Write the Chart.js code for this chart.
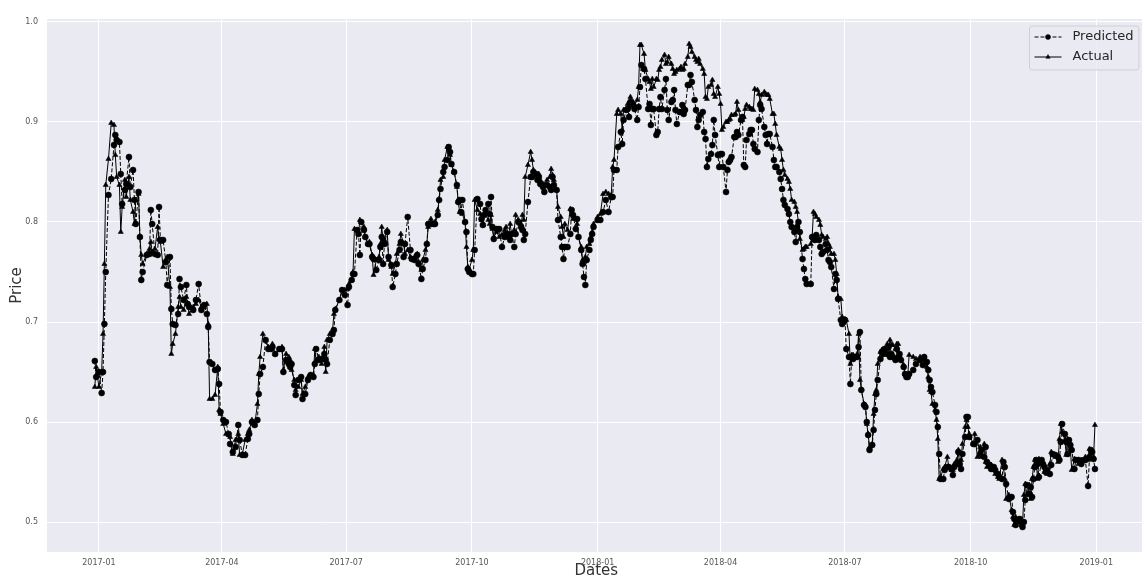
<!DOCTYPE html>
<html>
<head>
<meta charset="utf-8">
<title>Predicted vs Actual</title>
<script src="https://cdn.jsdelivr.net/npm/chart.js@4.4.1/dist/chart.umd.min.js"></script>
<style>
  html, body { margin: 0; padding: 0; background: #fff; }
  body { width: 1142px; height: 579px; overflow: hidden; }
  #wrap { width: 1150px; height: 579px; }
</style>
</head>
<body>
<div id="wrap"><canvas id="priceChart" width="1150" height="579"></canvas></div>
<script>
// days counted from 2017-01-01
const days = [
  -3, -2, 0, 2, 3, 4, 5, 7, 9, 11,
  12, 13, 15, 16, 17, 19, 20, 22, 23, 25,
  26, 27, 29, 30, 31, 32, 35, 37, 38, 39,
  41, 43, 44, 45, 47, 49, 50, 52, 53, 54,
  56, 58, 59, 60, 62, 64, 65, 66, 69, 71,
  73, 75, 77, 79, 80, 81, 83, 85, 87, 88,
  89, 91, 93, 95, 96, 98, 100, 102, 103, 105,
  107, 109, 110, 112, 114, 116, 117, 118, 120, 122,
  124, 126, 127, 129, 132, 134, 135, 137, 139, 140,
  141, 143, 144, 146, 148, 149, 151, 153, 155, 157,
  158, 159, 161, 163, 165, 166, 167, 169, 171, 172,
  173, 176, 178, 180, 182, 183, 185, 186, 187, 189,
  190, 191, 192, 194, 195, 197, 198, 200, 201, 203,
  205, 206, 207, 208, 209, 211, 212, 214, 215, 217,
  218, 220, 221, 223, 224, 226, 228, 229, 231, 233,
  234, 236, 237, 239, 240, 241, 243, 245, 246, 248,
  249, 250, 252, 253, 255, 256, 257, 258, 260, 262,
  263, 264, 265, 266, 268, 269, 270, 271, 273, 274,
  275, 277, 279, 280, 281, 282, 283, 285, 286, 287,
  288, 289, 291, 293, 295, 297, 298, 300, 301, 302,
  304, 305, 307, 309, 310, 311, 312, 314, 316, 317,
  318, 320, 321, 322, 323, 325, 326, 328, 330, 331,
  332, 333, 335, 336, 338, 339, 340, 341, 343, 345,
  346, 347, 349, 350, 351, 353, 354, 355, 356, 357,
  359, 360, 361, 362, 365, 367, 369, 371, 373, 375,
  376, 377, 379, 380, 382, 383, 384, 386, 387, 388,
  389, 391, 392, 394, 395, 396, 397, 399, 400, 402,
  403, 404, 405, 406, 408, 409, 410, 411, 412, 414,
  415, 416, 417, 419, 420, 421, 422, 423, 425, 426,
  427, 428, 429, 431, 432, 433, 434, 436, 437, 438,
  439, 440, 442, 443, 444, 445, 446, 448, 449, 450,
  451, 453, 454, 455, 456, 457, 459, 460, 461, 462,
  463, 465, 466, 467, 468, 470, 471, 472, 473, 474,
  476, 477, 478, 479, 480, 482, 483, 484, 485, 487,
  488, 489, 490, 491, 493, 494, 495, 496, 498, 499,
  500, 501, 502, 504, 505, 506, 507, 509, 510, 511,
  512, 513, 515, 516, 517, 518, 521, 522, 523, 524,
  525, 527, 528, 529, 530, 532, 533, 534, 535, 536,
  538, 539, 540, 541, 543, 544, 545, 546, 547, 549,
  550, 551, 552, 553, 555, 556, 557, 558, 560, 561,
  562, 563, 564, 566, 567, 568, 569, 570, 572, 573,
  574, 575, 577, 578, 579, 580, 581, 583, 584, 585,
  586, 587, 589, 590, 591, 592, 593, 596, 598, 601,
  603, 604, 606, 607, 608, 609, 610, 612, 613, 614,
  615, 616, 618, 619, 621, 622, 624, 625, 626, 628,
  629, 630, 631, 632, 634, 635, 636, 637, 640, 641,
  643, 645, 646, 648, 649, 650, 652, 653, 655, 656,
  658, 659, 661, 662, 663, 664, 666, 668, 669, 670,
  671, 673, 674, 675, 676, 677, 678, 679, 681, 682,
  683, 684, 685, 686, 687, 688, 690, 691, 692, 693,
  694, 696, 697, 698, 700, 702, 703, 704, 705, 707,
  708, 709, 710, 711, 712, 714, 715, 717, 719, 721,
  722, 724, 725, 726, 727, 728, 729
];

const actual = [
  .635, .655, .635, .650, .688, .758, .837, .863, .899, .897,
  .867, .845, .837, .790, .815, .842, .825, .845, .822, .810,
  .798, .822, .828, .785, .767, .758, .768, .773, .780, .770,
  .773, .795, .783, .780, .755, .762, .765, .735, .668, .678,
  .688, .715, .725, .715, .712, .725, .718, .708, .715, .718,
  .722, .715, .715, .718, .698, .623, .623, .627, .655, .612,
  .608, .598, .588, .587, .585, .568, .582, .588, .567, .568,
  .582, .588, .592, .602, .597, .618, .648, .665, .688, .682,
  .675, .673, .678, .668, .672, .675, .652, .668, .665, .662,
  .652, .642, .632, .635, .642, .628, .635, .645, .645, .647,
  .673, .662, .665, .658, .675, .650, .682, .688, .692, .708,
  .713, .722, .732, .732, .733, .738, .742, .750, .793, .792,
  .788, .802, .800, .795, .785, .778, .780, .767, .747, .762,
  .765, .778, .795, .782, .782, .792, .762, .755, .748, .758,
  .768, .778, .788, .778, .768, .772, .765, .763, .765, .768,
  .760, .752, .762, .772, .778, .795, .803, .798, .800, .812,
  .823, .842, .845, .862, .875, .873, .867, .857, .850, .835,
  .820, .810, .810, .808, .800, .775, .755, .753, .762, .772,
  .822, .812, .808, .802, .797, .807, .808, .802, .798, .807,
  .793, .785, .790, .785, .787, .792, .795, .788, .798, .788,
  .792, .807, .802, .798, .807, .802, .845, .857, .870, .862,
  .852, .848, .845, .848, .842, .838, .837, .842, .845, .853,
  .847, .842, .832, .815, .805, .795, .785, .798, .792, .813,
  .808, .803, .803, .798, .785, .775, .762, .758, .765, .775,
  .778, .785, .790, .798, .805, .808, .828, .830, .828, .827,
  .855, .862, .908, .912, .908, .892, .912, .913, .918, .915,
  .925, .920, .917, .922, .935, .977, .977, .968, .952, .943,
  .940, .933, .943, .935, .943, .942, .952, .955, .962, .967,
  .958, .960, .965, .958, .953, .948, .950, .952, .953, .955,
  .952, .953, .958, .965, .978, .975, .970, .965, .962, .960,
  .963, .958, .953, .948, .925, .923, .935, .937, .942, .928,
  .925, .935, .928, .918, .892, .895, .900, .900, .902, .903,
  .907, .907, .908, .920, .912, .902, .902, .905, .913, .917,
  .915, .913, .913, .912, .933, .932, .928, .920, .927, .930,
  .928, .927, .927, .923, .908, .908, .898, .887, .875, .873,
  .862, .852, .847, .843, .840, .833, .822, .820, .815, .810,
  .800, .783, .772, .773, .775, .775, .778, .785, .810, .808,
  .805, .802, .797, .787, .785, .783, .785, .778, .775, .768,
  .768, .762, .748, .725, .723, .705, .702, .703, .702, .688,
  .658, .667, .667, .665, .668, .688, .642, .633, .618, .617,
  .598, .588, .575, .578, .608, .628, .632, .658, .670, .672,
  .672, .673, .678, .673, .682, .677, .677, .673, .678, .678,
  .667, .663, .657, .648, .647, .647, .667, .665, .663, .665,
  .662, .665, .655, .645, .632, .630, .618, .612, .602, .583,
  .543, .545, .553, .555, .565, .555, .552, .552, .558, .562,
  .572, .558, .562, .578, .595, .602, .595, .588, .578, .588,
  .565, .575, .565, .578, .560, .555, .555, .557, .552, .548,
  .545, .543, .562, .555, .543, .523, .527, .512, .505, .497,
  .505, .503, .500, .497, .498, .527, .538, .527, .537, .523,
  .543, .555, .562, .560, .543, .563, .560, .557, .550, .552,
  .548, .558, .570, .567, .565, .560, .583, .598, .590, .582,
  .567, .583, .578, .573, .552, .563, .562, .558, .562, .562,
  .565, .562, .573, .570, .563, .565, .597
];

const predicted = [
  .661, .645, .650, .629, .650, .698, .750, .827, .843, .877,
  .887, .882, .880, .848, .818, .832, .838, .865, .835, .852,
  .822, .798, .830, .785, .742, .750, .767, .768, .812, .798,
  .768, .767, .815, .782, .782, .760, .737, .765, .713, .698,
  .697, .708, .743, .735, .722, .737, .718, .715, .712, .722,
  .738, .712, .717, .708, .695, .660, .658, .652, .653, .638,
  .610, .602, .600, .588, .578, .570, .575, .597, .582, .567,
  .567, .583, .588, .600, .597, .602, .628, .648, .655, .682,
  .673, .673, .675, .668, .673, .673, .650, .662, .658, .655,
  .658, .637, .627, .642, .645, .623, .628, .642, .647, .645,
  .658, .673, .662, .663, .668, .662, .658, .682, .688, .692,
  .712, .722, .732, .727, .717, .735, .742, .748, .748, .792,
  .788, .767, .800, .792, .785, .778, .778, .765, .763, .752,
  .762, .775, .785, .758, .778, .790, .765, .757, .735, .748,
  .758, .772, .780, .765, .778, .805, .772, .763, .762, .767,
  .758, .743, .753, .762, .778, .798, .798, .798, .798, .807,
  .822, .833, .850, .855, .862, .875, .870, .858, .850, .837,
  .820, .822, .810, .822, .800, .790, .753, .750, .748, .748,
  .772, .823, .818, .803, .797, .807, .812, .818, .808, .825,
  .795, .783, .793, .793, .775, .785, .788, .785, .782, .788,
  .775, .788, .800, .795, .792, .782, .788, .820, .845, .845,
  .850, .848, .842, .845, .838, .835, .830, .837, .835, .832,
  .845, .837, .832, .802, .785, .775, .763, .775, .775, .788,
  .812, .807, .793, .803, .785, .772, .758, .745, .737, .762,
  .772, .782, .788, .795, .802, .802, .810, .822, .810, .825,
  .825, .852, .852, .875, .890, .878, .902, .912, .913, .905,
  .920, .917, .913, .902, .915, .935, .957, .953, .943, .913,
  .918, .897, .913, .913, .887, .890, .913, .925, .913, .932,
  .943, .912, .902, .920, .922, .932, .912, .898, .910, .910,
  .917, .908, .912, .937, .937, .947, .940, .922, .912, .895,
  .902, .907, .910, .890, .883, .855, .863, .868, .877, .902,
  .887, .867, .855, .868, .868, .855, .830, .852, .860, .862,
  .865, .885, .885, .890, .887, .902, .905, .857, .855, .882,
  .888, .892, .892, .878, .873, .870, .902, .917, .913, .895,
  .887, .878, .888, .888, .875, .862, .855, .855, .850, .843,
  .833, .822, .817, .813, .808, .800, .795, .790, .780, .795,
  .800, .790, .763, .753, .743, .738, .738, .785, .783, .782,
  .787, .782, .775, .768, .770, .778, .772, .762, .760, .755,
  .733, .748, .742, .723, .702, .698, .700, .702, .673, .665,
  .638, .665, .663, .665, .665, .675, .690, .632, .617, .615,
  .600, .587, .572, .577, .592, .612, .628, .642, .663, .670,
  .668, .673, .668, .675, .665, .668, .665, .662, .673, .665,
  .668, .662, .655, .648, .645, .645, .648, .652, .658, .662,
  .657, .665, .660, .652, .642, .635, .630, .617, .610, .595,
  .568, .543, .543, .552, .555, .555, .553, .547, .555, .558,
  .570, .558, .553, .568, .585, .605, .605, .585, .578, .578,
  .582, .568, .572, .565, .575, .560, .557, .553, .555, .552,
  .548, .545, .543, .560, .555, .538, .523, .525, .510, .503,
  .497, .502, .503, .500, .495, .500, .522, .537, .528, .535,
  .525, .543, .555, .562, .558, .545, .562, .558, .555, .550,
  .552, .548, .557, .568, .567, .565, .562, .580, .598, .588,
  .580, .568, .582, .577, .572, .553, .562, .562, .558, .562,
  .562, .536, .565, .572, .570, .563, .553
];

const xTickDays = [0, 90, 181, 273, 365, 455, 546, 638, 730];
const xTickLabels = ['2017-01', '2017-04', '2017-07', '2017-10', '2018-01',
                     '2018-04', '2018-07', '2018-10', '2019-01'];
const yTicks = [0.5, 0.6, 0.7, 0.8, 0.9, 1.0];

const toPoints = values => days.map((d, i) => ({ x: d, y: values[i] }));

const FONT = 'DejaVu Sans';

// grey plot area like the seaborn darkgrid style
const plotBackground = {
  id: 'plotBackground',
  beforeDraw(chart) {
    const { ctx, chartArea: a } = chart;
    ctx.save();
    ctx.fillStyle = '#eaeaf2';
    ctx.fillRect(a.left, a.top, a.right - a.left, a.bottom - a.top);
    ctx.restore();
  }
};

// legend box in the upper right corner of the plot
const cornerLegend = {
  id: 'cornerLegend',
  afterDraw(chart) {
    const { ctx, chartArea: a } = chart;
    const right = a.right - 6.5;
    const left = right - 109.5;
    const top = a.top + 7;
    const bottom = top + 44;
    ctx.save();
    ctx.beginPath();
    ctx.roundRect(left, top, right - left, bottom - top, 3);
    ctx.fillStyle = 'rgba(234, 234, 242, 0.8)';
    ctx.fill();
    ctx.strokeStyle = '#cfcfd6';
    ctx.lineWidth = 1;
    ctx.stroke();

    const rows = chart.data.datasets.slice().sort((p, q) => q.order - p.order);
    rows.forEach((ds, i) => {
      const y = top + 11 + i * 20;
      const x0 = left + 5, x1 = left + 32, xm = (x0 + x1) / 2;
      ctx.beginPath();
      ctx.setLineDash(ds.borderDash || []);
      ctx.strokeStyle = ds.borderColor;
      ctx.lineWidth = ds.borderWidth;
      ctx.moveTo(x0, y);
      ctx.lineTo(x1, y);
      ctx.stroke();
      ctx.setLineDash([]);
      ctx.fillStyle = ds.pointBackgroundColor;
      ctx.strokeStyle = ds.pointBorderColor;
      ctx.lineWidth = ds.pointBorderWidth;
      Chart.helpers.drawPoint(ctx, {
        pointStyle: ds.pointStyle,
        radius: ds.pointRadius - 0.5,
        borderWidth: ds.pointBorderWidth,
        rotation: 0
      }, xm, y);
      ctx.fillStyle = '#262626';
      ctx.font = '13px "' + FONT + '"';
      ctx.textBaseline = 'middle';
      ctx.textAlign = 'left';
      ctx.fillText(ds.label, left + 43, y);
    });
    ctx.restore();
  }
};

const ctx = document.getElementById('priceChart').getContext('2d');
const priceChart = new Chart(ctx, {
  type: 'line',
  data: {
    datasets: [
      {
        label: 'Predicted',
        data: toPoints(predicted),
        order: 1,
        borderColor: '#000',
        backgroundColor: '#000',
        borderWidth: 1,
        borderDash: [4, 2],
        pointStyle: 'circle',
        pointRadius: 3,
        pointBorderWidth: 0.5,
        pointBackgroundColor: '#000',
        pointBorderColor: '#000',
        tension: 0
      },
      {
        label: 'Actual',
        data: toPoints(actual),
        order: 0,
        borderColor: '#000',
        backgroundColor: '#000',
        borderWidth: 1,
        pointStyle: 'triangle',
        pointRadius: 3,
        pointBorderWidth: 0.5,
        pointBackgroundColor: '#000',
        pointBorderColor: '#000',
        tension: 0
      }
    ]
  },
  options: {
    responsive: false,
    animation: false,
    devicePixelRatio: 1,
    layout: { padding: { top: 19, left: 0, right: 0, bottom: 0 } },
    plugins: {
      legend: { display: false },
      tooltip: { enabled: false }
    },
    scales: {
      x: {
        type: 'linear',
        min: -38,
        max: 766,
        afterBuildTicks: scale => { scale.ticks = xTickDays.map(v => ({ value: v })); },
        afterFit: scale => { scale.height = 27; },
        grid: { color: '#ffffff', lineWidth: 1, drawTicks: false },
        border: { display: false },
        ticks: {
          autoSkip: false,
          maxRotation: 0,
          padding: 6,
          color: '#555',
          font: { family: FONT, size: 8 },
          callback: value => xTickLabels[xTickDays.indexOf(value)]
        },
        title: {
          display: true,
          text: 'Dates',
          color: '#333',
          font: { family: FONT, size: 15, lineHeight: 1 },
          padding: { top: 0, bottom: 0 }
        }
      },
      y: {
        type: 'linear',
        min: 0.470,
        max: 1.003,
        afterBuildTicks: scale => { scale.ticks = yTicks.map(v => ({ value: v })); },
        afterFit: scale => { scale.width = 47; },
        grid: { color: '#ffffff', lineWidth: 1, drawTicks: false },
        border: { display: false },
        ticks: {
          padding: 9,
          color: '#555',
          font: { family: FONT, size: 8 },
          callback: value => value.toFixed(1)
        },
        title: {
          display: true,
          text: 'Price',
          color: '#333',
          font: { family: FONT, size: 15, lineHeight: 1 },
          padding: { top: 10, bottom: 0 }
        }
      }
    }
  },
  plugins: [plotBackground, cornerLegend]
});
</script>
</body>
</html>
